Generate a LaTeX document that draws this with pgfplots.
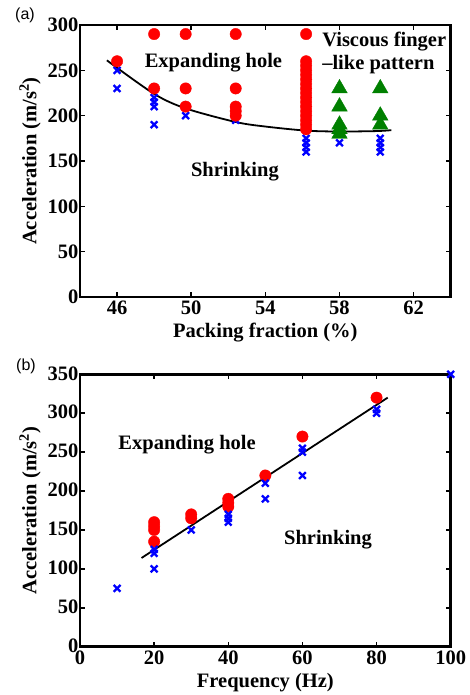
\documentclass[border=0pt]{standalone}
\usepackage{pgfplots}
\pgfplotsset{compat=1.18}
\usepackage{fontspec}
\setmainfont{Liberation Serif}
\newfontfamily\helv{Liberation Sans}
\definecolor{mred}{rgb}{1,0,0}
\definecolor{mblue}{rgb}{0,0,1}
\definecolor{mgreen}{rgb}{0,0.5,0}
\pgfplotsset{
  mystyle/.style={
    scale only axis,
    axis line style={line width=2.5pt},
    every tick/.style={line width=1.5pt, black},
    major tick length=5pt,
    tick align=inside,
    xtick pos=both, ytick pos=both,
    /pgf/number format/assume math mode=true,
    tick label style={font=\fontsize{20.5}{24}\selectfont\bfseries},
    yticklabel style={inner xsep=1.5pt},
    label style={font=\fontsize{20.5}{24}\selectfont\bfseries},
    ylabel style={at={(axis description cs:-0.135,0.5)}, anchor=center},
    xlabel style={anchor=center},
    clip=false,
  },
  rdot/.style={only marks, mark=*, mark size=5.7pt, color=mred, mark options={draw=mred, fill=mred}},
  bx/.style={only marks, mark=x, mark size=4.8pt, color=mblue, mark options={line width=2.3pt}},
  gtri/.style={only marks, mark=triangle*, mark size=9pt, color=mgreen, mark options={draw=mgreen, fill=mgreen}},
}
\begin{document}
\begin{tikzpicture}
\useasboundingbox (0,0) rectangle (470pt,695pt);
% Panel (a)
\begin{axis}[mystyle,
  at={(80pt,398pt)}, anchor=south west,
  width=370.7pt, height=272pt,
  xmin=44, xmax=64, ymin=0, ymax=300,
  xtick={46,50,54,58,62}, ytick={0,50,100,150,200,250,300},
  xlabel={Packing fraction (\%)},
  xlabel style={at={(axis description cs:0.5,-0.132)}},
  ylabel={Acceleration (m/s\textsuperscript{2})},
]
\addplot[bx] coordinates {
 (46,250) (46,230)
 (48,220) (48,215) (48,210) (48,190)
 (49.7,200)
 (52.4,195)
 (56.2,175) (56.2,170) (56.2,165) (56.2,160)
 (58,170)
 (60.2,175) (60.2,170) (60.2,165) (60.2,160)
};
\addplot[rdot] coordinates {
 (46,260)
 (48,290) (48,230)
 (49.7,290) (49.7,230) (49.7,210)
 (52.4,290) (52.4,230) (52.4,210) (52.4,205) (52.4,200)
 (56.2,290) (56.2,260) (56.2,255) (56.2,250) (56.2,245) (56.2,240) (56.2,235)
 (56.2,230) (56.2,225) (56.2,220) (56.2,215) (56.2,210) (56.2,205) (56.2,200)
 (56.2,195) (56.2,190) (56.2,185)
};
\addplot[gtri] coordinates {
 (58,230) (58,210) (58,190) (58,185) (58,180)
 (60.2,230) (60.2,200) (60.2,190)
};
\addplot[black, line width=1.8pt, smooth, no marks] coordinates {
 (45.45,261) (48,224) (49.7,208) (52.4,193) (54,188) (56.2,183.5) (58,182.5) (60,183) (60.8,184)
};
\node[font=\fontsize{20.5}{24}\selectfont\bfseries] at (axis cs:51.2,259) {Expanding hole};
\node[font=\fontsize{20.5}{24}\selectfont\bfseries] at (axis cs:52.36,138) {Shrinking};
\node[font=\fontsize{20.5}{24}\selectfont\bfseries, anchor=west, inner sep=0pt] at (axis cs:57.06,282) {Viscous finger};
\node[font=\fontsize{20.5}{24}\selectfont\bfseries, anchor=west, inner sep=0pt] at (axis cs:57.06,256) {--like pattern};
\end{axis}
% Panel (b)
\begin{axis}[mystyle,
  at={(80pt,48.3pt)}, anchor=south west,
  width=370.7pt, height=272.4pt,
  xmin=0, xmax=100, ymin=0, ymax=350,
  xtick={0,20,40,60,80,100}, ytick={0,50,100,150,200,250,300,350},
  xticklabel style={yshift=-1pt},
  yticklabel style={yshift=1pt},
  xlabel={Frequency (Hz)},
  xlabel style={at={(axis description cs:0.5,-0.133)}},
  ylabel={Acceleration (m/s\textsuperscript{2})},
]
\addplot[rdot] coordinates {
 (20,160) (20,155) (20,150) (20,135)
 (30,170) (30,165)
 (40,190) (40,185) (40,180)
 (50,220)
 (60,270)
 (80,320)
};
\addplot[bx] coordinates {
 (10,75)
 (20,125) (20,120) (20,100)
 (30,150)
 (40,170) (40,165) (40,160)
 (50,210) (50,190)
 (60,255) (60,250) (60,220)
 (80,305) (80,300)
 (100,350)
};
\addplot[black, line width=1.8pt, no marks] coordinates {(16.6,114) (83,320)};
\node[font=\fontsize{20.5}{24}\selectfont\bfseries] at (axis cs:28.9,259) {Expanding hole};
\node[font=\fontsize{20.5}{24}\selectfont\bfseries] at (axis cs:66.9,137) {Shrinking};
\end{axis}
\node[font=\helv\fontsize{16}{19}\selectfont] at (25pt,680pt) {(a)};
\node[font=\helv\fontsize{16}{19}\selectfont] at (26pt,329pt) {(b)};
\end{tikzpicture}
\end{document}
